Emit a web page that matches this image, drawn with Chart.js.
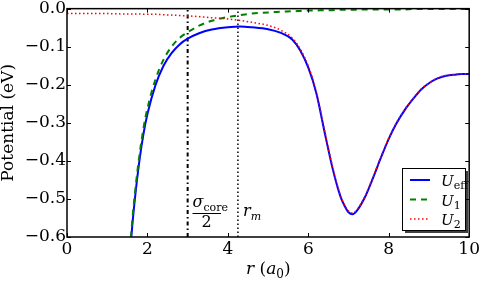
<!DOCTYPE html>
<html>
<head>
<meta charset="utf-8">
<script src="https://cdn.jsdelivr.net/npm/chart.js@4.4.1/dist/chart.umd.min.js"></script>
<style>
html, body { margin: 0; padding: 0; background: #fff; }
canvas { display: block; }
</style>
</head>
<body>
<canvas id="potentialChart" width="484" height="282"></canvas>
<script>
// r in units of a0, potentials in eV
const rGrid = [0, 0.5, 1.0, 1.5, 1.6, 1.7, 1.8, 1.9, 2.0, 2.2, 2.4, 2.6, 2.8, 3.0, 3.3, 3.6, 4.0, 4.3, 4.6,
    5.0, 5.3, 5.6, 5.8, 6.0, 6.2, 6.4, 6.6, 6.8, 6.9, 7.0, 7.1, 7.2, 7.4, 7.6, 7.8, 8.0, 8.2, 8.4, 8.6,
    8.8, 9.0, 9.2, 9.4, 9.6, 9.8, 10.0];
const uEff = [null, null, null, -0.760, -0.600, -0.488, -0.400, -0.330, -0.277, -0.201, -0.150, -0.117, -0.094,
    -0.079, -0.064, -0.055, -0.049, -0.047, -0.049, -0.054, -0.063, -0.081, -0.110, -0.155, -0.222, -0.322,
    -0.418, -0.494, -0.518, -0.535, -0.540, -0.532, -0.497, -0.447, -0.393, -0.342, -0.300, -0.266, -0.238,
    -0.213, -0.196, -0.184, -0.177, -0.174, -0.172, -0.172];
const u1 = [null, null, null, -0.745, -0.586, -0.474, -0.386, -0.315, -0.262, -0.186, -0.134, -0.100, -0.077,
    -0.062, -0.044, -0.032, -0.022, -0.017, -0.013, -0.010, -0.008, -0.007, -0.006, -0.005, -0.005, -0.004,
    -0.004, -0.003, -0.003, -0.003, -0.003, -0.003, -0.002, -0.002, -0.002, -0.002, -0.002, -0.002, -0.001,
    -0.001, -0.001, -0.001, -0.001, -0.001, -0.001, -0.001];
const u2 = [-0.013, -0.013, -0.013, -0.014, -0.014, -0.014, -0.014, -0.015, -0.015, -0.015, -0.016, -0.017, -0.018,
    -0.019, -0.021, -0.024, -0.027, -0.031, -0.036, -0.044, -0.056, -0.077, -0.106, -0.151, -0.218, -0.318,
    -0.414, -0.491, -0.515, -0.532, -0.537, -0.529, -0.495, -0.445, -0.391, -0.340, -0.298, -0.264, -0.237,
    -0.212, -0.195, -0.183, -0.176, -0.173, -0.171, -0.171];
const xTicks = [0, 2, 4, 6, 8, 10];
const yTicks = [-0.6, -0.5, -0.4, -0.3, -0.2, -0.1, 0.0];
const rCoreHalf = 3.0;   // sigma_core / 2
const rM = 4.25;         // r_m

const SERIF = '"DejaVu Serif", "Liberation Serif", serif';

function toPoints(arr) {
    return rGrid.map((r, i) => ({ x: r, y: arr[i] }));
}

function vline(r) {
    return [{ x: r, y: yTicks[0] }, { x: r, y: yTicks[yTicks.length - 1] }];
}

// writes a run of text pieces, e.g. italic letters with subscripts
function drawMath(ctx, parts, x, y, size) {
    let cx = x;
    parts.forEach(p => {
        const fs = p.sub ? Math.round(size * 0.7) : size;
        ctx.font = (p.italic ? 'italic ' : '') + fs + 'px ' + SERIF;
        ctx.fillText(p.t, cx, y + (p.sub ? size * 0.22 : 0));
        cx += ctx.measureText(p.t).width + (p.gap || 0);
    });
    return cx;
}

const decorPlugin = {
    id: 'decor',
    afterDraw(chart) {
        const ctx = chart.ctx;
        const a = chart.chartArea;
        const xs = chart.scales.x;
        const ys = chart.scales.y;
        ctx.save();
        ctx.strokeStyle = '#000';
        ctx.fillStyle = '#000';

        // inward ticks on all four sides
        ctx.lineWidth = 1;
        ctx.beginPath();
        xTicks.forEach(v => {
            const px = Math.round(xs.getPixelForValue(v)) + 0.5;
            ctx.moveTo(px, a.bottom); ctx.lineTo(px, a.bottom - 4);
            ctx.moveTo(px, a.top); ctx.lineTo(px, a.top + 4);
        });
        yTicks.forEach(v => {
            const py = Math.round(ys.getPixelForValue(v)) + 0.5;
            ctx.moveTo(a.left, py); ctx.lineTo(a.left + 4, py);
            ctx.moveTo(a.right, py); ctx.lineTo(a.right - 4, py);
        });
        ctx.stroke();

        // frame
        ctx.lineWidth = 1.5;
        ctx.strokeRect(a.left, a.top, a.right - a.left, a.bottom - a.top);

        // axis titles
        ctx.textAlign = 'left';
        ctx.textBaseline = 'alphabetic';
        ctx.save();
        ctx.translate(13, (a.top + a.bottom) / 2);
        ctx.rotate(-Math.PI / 2);
        ctx.font = '17px ' + SERIF;
        ctx.textAlign = 'center';
        ctx.fillText('Potential (eV)', 0, 0);
        ctx.restore();

        drawMath(ctx, [
            { t: 'r', italic: true },
            { t: ' (' },
            { t: 'a', italic: true },
            { t: '0', sub: true },
            { t: ')' }
        ], 246, 274, 17);

        // annotations next to the vertical lines
        drawMath(ctx, [{ t: '\u03c3', italic: true }, { t: 'core', sub: true }], 192.5, 207, 16);
        ctx.lineWidth = 1;
        ctx.beginPath();
        ctx.moveTo(192.5, 213.5); ctx.lineTo(221, 213.5);
        ctx.stroke();
        ctx.font = '16px ' + SERIF;
        ctx.textAlign = 'center';
        ctx.fillText('2', 206.5, 227);
        ctx.textAlign = 'left';
        drawMath(ctx, [{ t: 'r', italic: true }, { t: 'm', italic: true, sub: true }], 243, 216, 16);

        // legend with shadow
        const lx = 402.5, ly = 168.5, lw = 63, lh = 62;
        ctx.fillStyle = 'rgba(0,0,0,0.75)';
        ctx.fillRect(lx + 2.5, ly + 2.5, lw, lh);
        ctx.fillStyle = '#fff';
        ctx.fillRect(lx, ly, lw, lh);
        ctx.lineWidth = 1;
        ctx.strokeStyle = '#000';
        ctx.strokeRect(lx, ly, lw, lh);

        const rows = [
            { color: '#0000ff', dash: [], width: 2, sub: 'eff', y: 180 },
            { color: '#008000', dash: [6, 5], width: 2, sub: '1', y: 199.5 },
            { color: '#ff0000', dash: [1.5, 2.5], width: 1.5, sub: '2', y: 219 }
        ];
        rows.forEach(row => {
            ctx.strokeStyle = row.color;
            ctx.lineWidth = row.width;
            ctx.setLineDash(row.dash);
            ctx.beginPath();
            ctx.moveTo(410, row.y); ctx.lineTo(430, row.y);
            ctx.stroke();
            ctx.setLineDash([]);
            ctx.fillStyle = '#000';
            drawMath(ctx, [{ t: 'U', italic: true }, { t: row.sub, sub: true }], 441, row.y + 6, 15);
        });
        ctx.restore();
    }
};

new Chart(document.getElementById('potentialChart').getContext('2d'), {
    type: 'line',
    data: {
        datasets: [{
            label: 'U2',
            data: toPoints(u2),
            borderColor: '#ff0000',
            borderWidth: 1.5,
            borderDash: [1.5, 2.5]
        }, {
            label: 'U1',
            data: toPoints(u1),
            borderColor: '#008000',
            borderWidth: 2,
            borderDash: [6, 5]
        }, {
            label: 'Ueff',
            data: toPoints(uEff),
            borderColor: '#0000ff',
            borderWidth: 2
        }, {
            label: 'sigma_core/2',
            data: vline(rCoreHalf),
            borderColor: '#000',
            borderWidth: 2,
            borderDash: [4, 3, 1.5, 3],
            cubicInterpolationMode: 'default',
            tension: 0
        }, {
            label: 'r_m',
            data: vline(rM),
            borderColor: '#000',
            borderWidth: 1.5,
            borderDash: [1.5, 2.5],
            cubicInterpolationMode: 'default',
            tension: 0
        }]
    },
    options: {
        responsive: false,
        animation: false,
        layout: { padding: { left: 0, right: 13, top: 8, bottom: 0 } },
        elements: {
            point: { radius: 0 },
            line: { cubicInterpolationMode: 'monotone', fill: false }
        },
        plugins: {
            legend: { display: false },
            tooltip: { enabled: false }
        },
        scales: {
            x: {
                type: 'linear',
                min: 0,
                max: 10,
                afterBuildTicks: scale => { scale.ticks = xTicks.map(v => ({ value: v })); },
                afterFit: scale => { scale.height = 45; },
                grid: { display: false, drawTicks: false },
                border: { display: false },
                ticks: {
                    color: '#000',
                    padding: 4,
                    maxRotation: 0,
                    autoSkip: false,
                    font: { family: SERIF, size: 17, lineHeight: 1 },
                    callback: v => String(v)
                }
            },
            y: {
                type: 'linear',
                min: -0.6,
                max: 0,
                afterBuildTicks: scale => { scale.ticks = yTicks.map(v => ({ value: v })); },
                afterFit: scale => { scale.width = 67; },
                grid: { display: false, drawTicks: false },
                border: { display: false },
                ticks: {
                    color: '#000',
                    padding: 1,
                    autoSkip: false,
                    font: { family: SERIF, size: 17, lineHeight: 0.9 },
                    callback: v => v.toFixed(1).replace('-', '\u2212')
                }
            }
        }
    },
    plugins: [decorPlugin]
});
</script>
</body>
</html>
